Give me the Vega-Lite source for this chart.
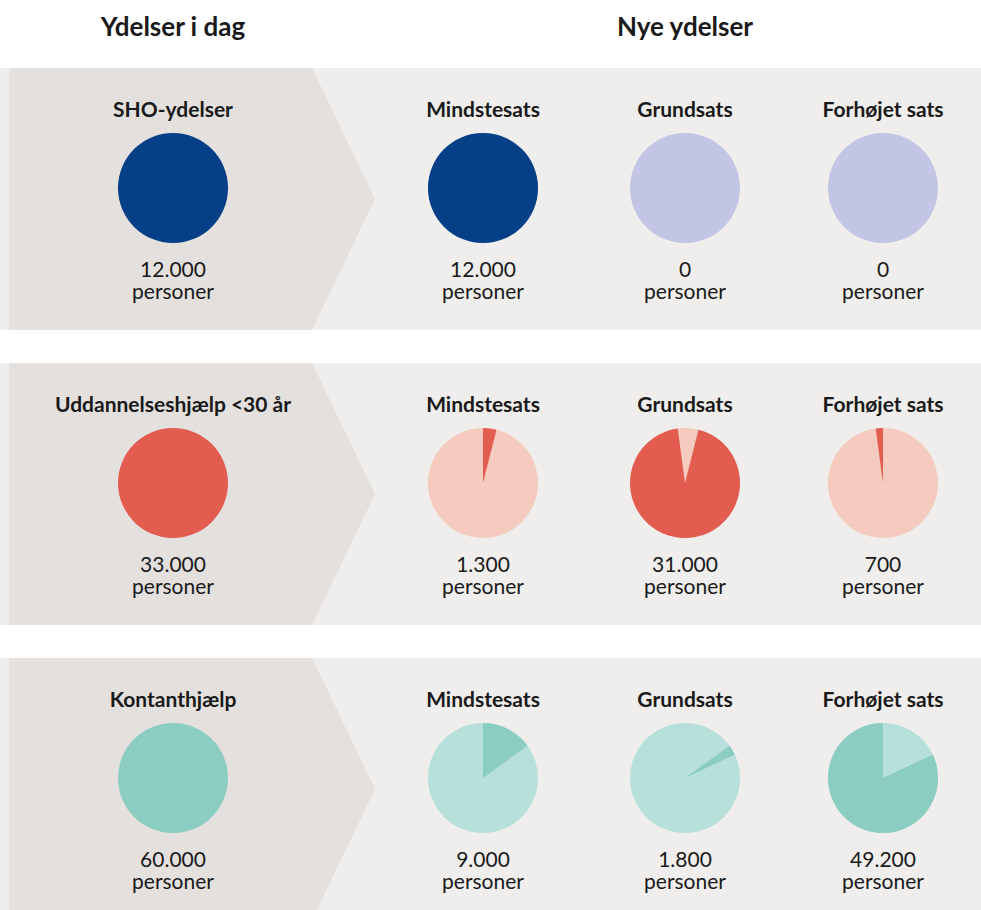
{
  "$schema": "https://vega.github.io/schema/vega-lite/v6.json",
  "width": 981,
  "height": 910,
  "padding": 0,
  "autosize": {"type": "none"},
  "background": "white",
  "config": {
    "view": {"stroke": null},
    "text": {"font": "Lato", "color": "#1a1a1a"},
    "locale": {"number": {"decimal": ",", "thousands": ".", "grouping": [3], "currency": ["", " kr."]}}
  },
  "data": {
    "values": [
      {"group": "SHO-ydelser", "col": "Ydelser i dag", "value": 12000},
      {"group": "SHO-ydelser", "col": "Mindstesats", "value": 12000},
      {"group": "SHO-ydelser", "col": "Grundsats", "value": 0},
      {"group": "SHO-ydelser", "col": "Forhøjet sats", "value": 0},
      {"group": "Uddannelseshjælp <30 år", "col": "Ydelser i dag", "value": 33000},
      {"group": "Uddannelseshjælp <30 år", "col": "Mindstesats", "value": 1300},
      {"group": "Uddannelseshjælp <30 år", "col": "Grundsats", "value": 31000},
      {"group": "Uddannelseshjælp <30 år", "col": "Forhøjet sats", "value": 700},
      {"group": "Kontanthjælp", "col": "Ydelser i dag", "value": 60000},
      {"group": "Kontanthjælp", "col": "Mindstesats", "value": 9000},
      {"group": "Kontanthjælp", "col": "Grundsats", "value": 1800},
      {"group": "Kontanthjælp", "col": "Forhøjet sats", "value": 49200}
    ]
  },
  "transform": [
    {"calculate": "datum.col === 'Ydelser i dag' ? 'today' : 'new'", "as": "kind"},
    {"calculate": "indexof(['Ydelser i dag','Mindstesats','Grundsats','Forhøjet sats'], datum.col)", "as": "slot"},
    {"calculate": "datum.col === 'Ydelser i dag' ? datum.group : datum.col", "as": "header"},
    {"calculate": "datum.col === 'Ydelser i dag' ? 'Ydelser i dag' : 'Nye ydelser'", "as": "section"},
    {"calculate": "[format(datum.value, ','), 'personer']", "as": "label"},
    {"joinaggregate": [{"op": "sum", "field": "value", "as": "total"}], "groupby": ["group", "kind"]},
    {"window": [{"op": "sum", "field": "value", "as": "cum"}], "groupby": ["group", "kind"], "sort": [{"field": "slot", "order": "ascending"}], "frame": [null, 0]},
    {"calculate": "2 * PI * (datum.cum - datum.value) / datum.total", "as": "t1"},
    {"calculate": "2 * PI * datum.cum / datum.total", "as": "t2"}
  ],
  "encoding": {
    "x": {"field": "slot", "type": "quantitative", "stack": null, "scale": {"domain": [0, 1, 2, 3], "range": [173, 483, 685, 883], "nice": false, "zero": false}, "axis": null},
    "y": {"field": "group", "type": "nominal", "sort": null, "scale": {"type": "band", "domain": ["SHO-ydelser", "Uddannelseshjælp <30 år", "Kontanthjælp"], "range": [68, 920], "paddingInner": 0.1119, "paddingOuter": 0}, "axis": null}
  },
  "layer": [
    {
      "transform": [{"filter": "datum.kind === 'today'"}],
      "mark": {"type": "rect", "color": "#efeeec", "xOffset": 9},
      "encoding": {"x": null}
    },
    {
      "transform": [{"filter": "datum.kind === 'today'"}],
      "mark": {"type": "point", "filled": true, "opacity": 1, "strokeWidth": 0, "color": "#e3e0de", "size": 163216,
        "shape": "M-0.8119,-0.6485L0.6881,-0.6485L1,0L0.6881,0.6485L-0.8119,0.6485Z"}
    },
    {
      "transform": [{"filter": "datum.kind === 'new'"}],
      "mark": {"type": "arc", "radius": 55, "theta": 0, "theta2": 6.2832, "yOffset": -11},
      "encoding": {
        "fill": {"field": "group", "type": "nominal", "scale": {"domain": ["SHO-ydelser", "Uddannelseshjælp <30 år", "Kontanthjælp"], "range": ["#c2c5e3", "#f5cbbf", "#b8e0da"]}, "legend": null}
      }
    },
    {
      "mark": {"type": "arc", "radius": 55, "yOffset": -11},
      "encoding": {
        "theta": {"field": "t1", "type": "quantitative", "scale": null, "stack": null},
        "theta2": {"field": "t2"},
        "color": {"field": "group", "type": "nominal", "scale": {"domain": ["SHO-ydelser", "Uddannelseshjælp <30 år", "Kontanthjælp"], "range": ["#053f87", "#e35c50", "#8ccdc2"]}, "legend": null}
      }
    },
    {
      "mark": {"type": "text", "fontSize": 21, "fontWeight": "bold", "yOffset": -88},
      "encoding": {"text": {"field": "header", "type": "nominal"}}
    },
    {
      "mark": {"type": "text", "fontSize": 21, "baseline": "alphabetic", "lineHeight": 22, "yOffset": 78},
      "encoding": {"text": {"field": "label"}}
    },
    {
      "transform": [{"filter": "datum.group === 'SHO-ydelser' && (datum.slot === 0 || datum.slot === 2)"}],
      "mark": {"type": "text", "fontSize": 26, "fontWeight": "bold", "yOffset": -171},
      "encoding": {"text": {"field": "section", "type": "nominal"}}
    }
  ]
}
